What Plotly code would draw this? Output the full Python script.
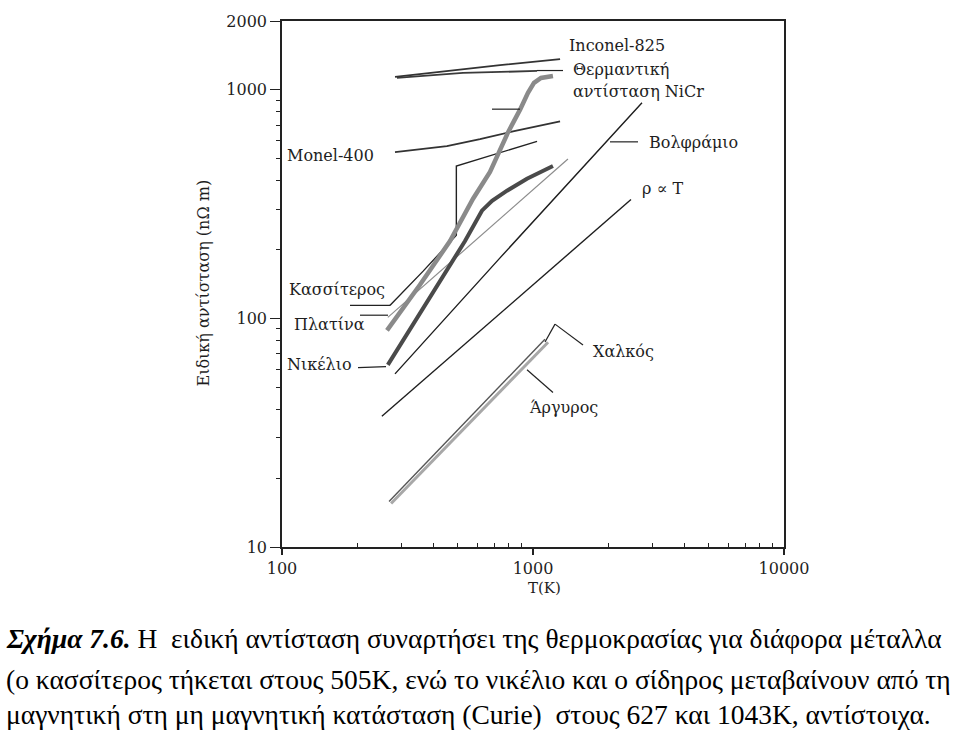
import plotly.graph_objects as go

# ---------------- data ----------------
iron_T = [262, 354, 467, 577, 674, 795, 888, 955, 1009, 1076, 1201]
iron_rho = [88.7, 140, 218, 334, 437, 651, 819, 971, 1072, 1127, 1150]

nickel_T = [264, 389, 536, 626, 687, 788, 946, 1201]
nickel_rho = [62.6, 123, 218, 296, 327, 362, 408, 464]

platinum_T = [264, 561, 1378]
platinum_rho = [101, 209, 498]

tin_T = [269, 365, 495, 495, 1038]
tin_rho = [114, 161, 231, 464, 595]

tungsten_T = [282, 739, 2718]
tungsten_rho = [57.2, 184, 878]

linear_T = [250, 2457]
linear_rho = [37.3, 331]

copper_T = [267, 1116]
copper_rho = [15.8, 81.1]

silver_T = [272, 1148]
silver_rho = [15.5, 78.7]

monel_T = [282, 454, 615, 832, 1282]
monel_rho = [534, 567, 608, 658, 727]

inconel_T = [282, 454, 739, 1282]
inconel_rho = [1138, 1209, 1283, 1362]

nicr_T = [287, 526, 1038]
nicr_rho = [1127, 1185, 1209]

x_ticks = [100, 1000, 10000]
x_ticklabels = ["100", "1000", "10000"]
y_ticks = [10, 100, 1000, 2000]
y_ticklabels = ["10", "100", "1000", "2000"]
x_minor = [200, 300, 400, 500, 600, 700, 800, 900,
           2000, 3000, 4000, 5000, 6000, 7000, 8000, 9000]
y_minor = [20, 30, 40, 50, 60, 70, 80, 90,
           200, 300, 400, 500, 600, 700, 800, 900]

# ---------------- figure ----------------
W, H = 960, 732
X0, X1, Y0, Y1 = 282, 784, 16, 547   # plot area in pixels


def px(x):
    return (x - X0) / (X1 - X0)


def py(y):
    return (Y1 - y) / (Y1 - Y0)


SERIF = "DejaVu Serif"
CAP = "Liberation Serif"
INK = "#1e1e1e"

fig = go.Figure()


def add(T, R, color, width, name):
    fig.add_trace(go.Scatter(x=T, y=R, mode="lines", name=name,
                             line=dict(color=color, width=width),
                             hoverinfo="x+y+name"))


add(monel_T, monel_rho, "#333333", 1.8, "Monel-400")
add(inconel_T, inconel_rho, "#333333", 1.8, "Inconel-825")
add(nicr_T, nicr_rho, "#3a3a3a", 1.8, "NiCr")
add(platinum_T, platinum_rho, "#8c8c8c", 1.2, "Πλατίνα")
add(tin_T, tin_rho, "#222222", 1.4, "Κασσίτερος")
add(tungsten_T, tungsten_rho, "#1e1e1e", 1.4, "Βολφράμιο")
add(linear_T, linear_rho, "#1e1e1e", 1.4, "ρ ∝ T")
add(silver_T, silver_rho, "#a8a8a8", 3, "Άργυρος")
add(copper_T, copper_rho, "#555555", 1.4, "Χαλκός")
add(iron_T, iron_rho, "#8a8a8a", 4.5, "Σίδηρος")
add(nickel_T, nickel_rho, "#4a4a4a", 4, "Νικέλιο")

# leader lines (pixel positions -> paper)
leaders = [
    [(350, 303), (390, 303)],              # Κασσίτερος
    [(360, 313), (388, 313)],              # Πλατίνα
    [(358, 366), (386, 365)],              # Νικέλιο
    [(492, 105), (520, 105)],              # σίδηρος (unlabelled)
    [(537, 66), (563, 66)],                # NiCr
    [(610, 138), (638, 138)],              # Βολφράμιο
    [(545, 340), (555, 322), (583, 343)],  # Χαλκός
    [(527, 368), (553, 391)],              # Άργυρος
]
shapes = []
for pts in leaders:
    for (a, b) in zip(pts[:-1], pts[1:]):
        shapes.append(dict(type="line", xref="paper", yref="paper",
                           x0=px(a[0]), y0=py(a[1]), x1=px(b[0]), y1=py(b[1]),
                           line=dict(color="#222222", width=1.2)))

labels = [
    ("Inconel-825", 567, 41),
    ("Θερμαντική", 571, 65),
    ("αντίσταση NiCr", 571, 87),
    ("Βολφράμιο", 647, 139),
    ("ρ ∝ T", 640, 185),
    ("Χαλκός", 591, 350),
    ("Άργυρος", 527, 406),
    ("Monel-400", 285, 152),
    ("Κασσίτερος", 287, 287),
    ("Πλατίνα", 292, 322),
    ("Νικέλιο", 285, 363),
]
annotations = []
for text, x, y in labels:
    annotations.append(dict(text=text, xref="paper", yref="paper",
                            x=px(x), y=py(y), xanchor="left", yanchor="middle",
                            showarrow=False,
                            font=dict(family=SERIF, size=16, color=INK)))

# axis titles
annotations.append(dict(text="Ειδική αντίσταση (nΩ m)", xref="paper", yref="paper",
                        x=px(204), y=py(281), textangle=-90, showarrow=False,
                        xanchor="center", yanchor="middle",
                        font=dict(family=SERIF, size=16, color=INK)))
annotations.append(dict(text="T(K)", xref="paper", yref="paper",
                        x=px(544), y=py(588), showarrow=False,
                        xanchor="center", yanchor="middle",
                        font=dict(family=SERIF, size=15, color=INK)))

# caption
caption = [
    ("<b><i>Σχήμα 7.6.</i></b> Η  ειδική αντίσταση συναρτήσει της θερμοκρασίας για διάφορα μέταλλα", 639),
    ("(ο κασσίτερος τήκεται στους 505Κ, ενώ το νικέλιο και ο σίδηρος μεταβαίνουν από τη", 681),
    ("μαγνητική στη μη μαγνητική κατάσταση (Curie)  στους 627 και 1043Κ, αντίστοιχα.", 716),
]
for text, y in caption:
    annotations.append(dict(text=text, xref="paper", yref="paper",
                            x=px(4), y=py(y), xanchor="left", yanchor="middle",
                            showarrow=False,
                            font=dict(family=CAP, size=27.5, color="#000000")))

fig.update_layout(
    width=W, height=H,
    margin=dict(l=X0, r=W - X1, t=Y0, b=H - Y1, pad=0),
    paper_bgcolor="white", plot_bgcolor="white",
    showlegend=False,
    shapes=shapes, annotations=annotations,
    xaxis=dict(type="log", range=[2, 4], showgrid=False, zeroline=False,
               showline=True, linecolor="#222222", linewidth=1.5, mirror=True,
               tickvals=x_ticks, ticktext=x_ticklabels,
               ticks="outside", ticklen=6, tickcolor="#222222", tickwidth=1.5,
               tickfont=dict(family=SERIF, size=16, color=INK),
               minor=dict(tickvals=x_minor, ticks="inside", ticklen=4,
                          tickcolor="#222222", tickwidth=1.2, showgrid=False)),
    yaxis=dict(type="log", range=[1, 3.30103], showgrid=False, zeroline=False,
               showline=True, linecolor="#222222", linewidth=1.5, mirror=True,
               tickvals=y_ticks, ticktext=y_ticklabels,
               ticks="outside", ticklen=10, tickcolor="#222222", tickwidth=1.2,
               tickfont=dict(family=SERIF, size=16, color=INK),
               minor=dict(tickvals=y_minor, ticks="outside", ticklen=4,
                          tickcolor="#222222", tickwidth=1.2, showgrid=False)),
)

fig.write_html("out.html")
